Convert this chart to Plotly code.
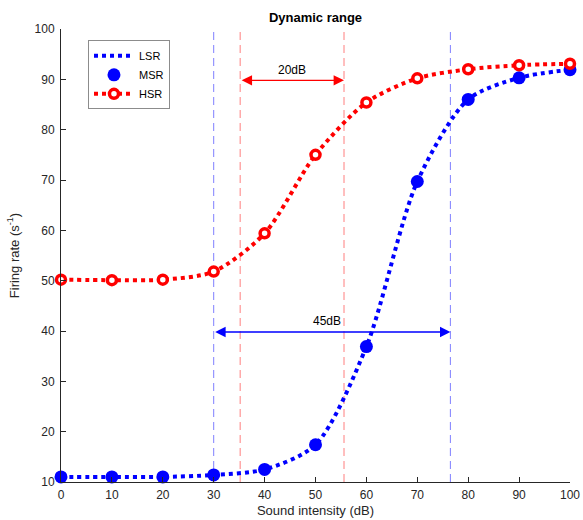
import plotly.graph_objects as go

# ---- data ----
intensity = [0, 10, 20, 30, 40, 50, 60, 70, 80, 90, 100]
lsr_rate = [11.0, 11.0, 11.0, 11.4, 12.5, 17.4, 36.9, 69.7, 86.0, 90.3, 91.9]
msr_rate = [11.0, 11.0, 11.0, 11.4, 12.5, 17.4, 36.9, 69.7, 86.0, 90.3, 91.9]
hsr_rate = [50.2, 50.1, 50.2, 51.8, 59.4, 75.0, 85.4, 90.2, 92.0, 92.8, 93.1]
y_ticks = [10, 20, 30, 40, 50, 60, 70, 80, 90, 100]

lsr_range = [30, 76.5]      # dynamic range bounds (dB) for low-SR fibre
hsr_range = [35.2, 55.6]    # dynamic range bounds (dB) for high-SR fibre
lsr_arrow_y = 39.8
hsr_arrow_y = 89.8
lsr_label = "45dB"
hsr_label = "20dB"
lsr_label_x = 52.3

BLUE = "rgb(0,0,255)"
RED = "rgb(255,0,0)"
FONT = "Liberation Sans, Arial, sans-serif"
AX = "#262626"

fig = go.Figure()

fig.add_trace(go.Scatter(
    x=intensity, y=lsr_rate, name="LSR", mode="lines",
    line=dict(color=BLUE, width=4, dash="4px,4px", shape="spline", smoothing=0.8),
    cliponaxis=False))
fig.add_trace(go.Scatter(
    x=intensity, y=msr_rate, name="MSR", mode="markers",
    marker=dict(color=BLUE, size=13, symbol="circle"),
    cliponaxis=False))
fig.add_trace(go.Scatter(
    x=intensity, y=hsr_rate, name="HSR", mode="lines+markers",
    line=dict(color=RED, width=4, dash="4px,4px", shape="spline", smoothing=0.8),
    marker=dict(color="white", size=9, symbol="circle", line=dict(color=RED, width=3.5)),
    cliponaxis=False))

shapes = []
for xv in lsr_range:
    shapes.append(dict(type="line", xref="x", yref="y", x0=xv, x1=xv, y0=10, y1=100,
                       line=dict(color="#7f7fff", width=1, dash="8px,5px"),
                       layer="below"))
for xv in hsr_range:
    shapes.append(dict(type="line", xref="x", yref="y", x0=xv, x1=xv, y0=10, y1=100,
                       line=dict(color="#ff7f7f", width=1, dash="8px,5px"),
                       layer="below"))

annotations = [
    dict(x=hsr_range[1], y=hsr_arrow_y, ax=hsr_range[0], ay=hsr_arrow_y,
         xref="x", yref="y", axref="x", ayref="y", text="", showarrow=True,
         arrowhead=2, startarrowhead=2, arrowside="end+start", arrowsize=1.6,
         startarrowsize=1.6, arrowwidth=1.3, arrowcolor=RED),
    dict(x=lsr_range[1], y=lsr_arrow_y, ax=lsr_range[0], ay=lsr_arrow_y,
         xref="x", yref="y", axref="x", ayref="y", text="", showarrow=True,
         arrowhead=2, startarrowhead=2, arrowside="end+start", arrowsize=1.6,
         startarrowsize=1.6, arrowwidth=1.3, arrowcolor=BLUE),
    dict(x=(hsr_range[0] + hsr_range[1]) / 2, y=hsr_arrow_y, xref="x", yref="y",
         text=hsr_label, showarrow=False, yanchor="bottom", yshift=1,
         font=dict(family=FONT, size=12, color="black")),
    dict(x=lsr_label_x, y=lsr_arrow_y, xref="x", yref="y",
         text=lsr_label, showarrow=False, yanchor="bottom", yshift=2,
         font=dict(family=FONT, size=12, color="black")),
]

fig.update_layout(
    width=583, height=520,
    margin=dict(l=61, r=13, t=29, b=38, autoexpand=False),
    paper_bgcolor="white", plot_bgcolor="white",
    font=dict(family=FONT, size=12, color=AX),
    title=dict(text="<b>Dynamic range</b>", x=(61 + 570) / 2 / 583, xanchor="center",
               y=1 - 17 / 520, yanchor="middle", font=dict(family=FONT, size=13, color="black")),
    showlegend=True,
    legend=dict(x=0.053, y=0.975, xanchor="left", yanchor="top",
                bgcolor="white", bordercolor="#8c8c8c", borderwidth=1,
                font=dict(family=FONT, size=11, color="black"),
                itemwidth=40, tracegroupgap=0),
    shapes=shapes, annotations=annotations,
    xaxis=dict(range=[0, 100], tickvals=intensity, ticks="inside", ticklen=5,
               tickcolor=AX, showline=True, linecolor=AX, linewidth=1,
               showgrid=False, zeroline=False, mirror=False, automargin=False,
               ticklabelstandoff=2,
               title=dict(text="Sound intensity (dB)", font=dict(family=FONT, size=13, color=AX), standoff=4),
               tickfont=dict(family=FONT, size=12, color=AX)),
    yaxis=dict(range=[10, 100], tickvals=y_ticks,
               ticks="inside", ticklen=5, tickcolor=AX, showline=True, linecolor=AX,
               linewidth=1, showgrid=False, zeroline=False, mirror=False, automargin=False,
               ticklabelstandoff=3,
               title=dict(text="Firing rate (s<sup>-1</sup>)", font=dict(family=FONT, size=13, color=AX), standoff=12),
               tickfont=dict(family=FONT, size=12, color=AX)),
)

fig.write_html("out.html", config={"displayModeBar": False},
               post_script="document.body.style.margin='0';document.body.style.overflow='hidden';")
